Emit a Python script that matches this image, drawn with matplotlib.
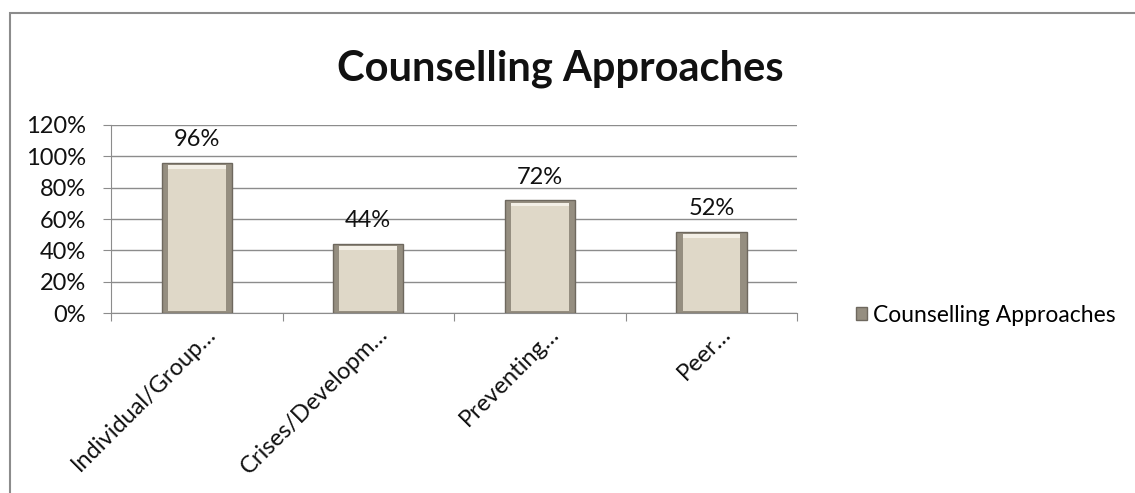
import matplotlib.pyplot as plt
from matplotlib.patches import Rectangle
from matplotlib.ticker import FuncFormatter

plt.rcParams['font.family'] = ['Lato', 'DejaVu Sans']

categories = ["Individual/Group\u2026", "Crises/Developm\u2026", "Preventing\u2026", "Peer\u2026"]
values = [0.96, 0.44, 0.72, 0.52]
value_labels = ["96%", "44%", "72%", "52%"]
series_name = "Counselling Approaches"

fig = plt.figure(figsize=(11.35, 4.93), dpi=100)

# outer chart frame (right and bottom edges fall outside the image)
fig.patches.append(Rectangle((10 / 1135, -0.05), 1.2, 1 - 13 / 493 + 0.05,
                             transform=fig.transFigure, fill=False,
                             edgecolor='#8c8c8c', linewidth=1.5))

ax = fig.add_axes([0.0978, 0.365, 0.6045, 0.3815])

x = range(len(categories))
w = 0.41
# beveled look: dark outer bar, lighter face, light top strip
ax.bar(x, values, width=w, color='#958e80', edgecolor='#6e685e', linewidth=1.0,
       zorder=3, label=series_name)
ax.bar(x, [v - 0.045 for v in values], bottom=0.015, width=w * 0.82,
       color='#dfd8c8', edgecolor='none', zorder=4)
ax.bar(x, [0.025] * len(values), bottom=[v - 0.04 for v in values], width=w * 0.82,
       color='#f3efe6', edgecolor='none', zorder=5)

for i, (v, lab) in enumerate(zip(values, value_labels)):
    ax.annotate(lab, (i, v), xytext=(0, 12), textcoords='offset points',
                ha='center', va='baseline', fontsize=17, color='#111111')

ax.set_ylim(0, 1.2)
ax.set_yticks([0, 0.2, 0.4, 0.6, 0.8, 1.0, 1.2])
ax.yaxis.set_major_formatter(FuncFormatter(lambda v, p: f"{v * 100:.0f}%"))
ax.set_xlim(-0.5, len(categories) - 0.5)
ax.grid(axis='y', color='#8c8c8c', linewidth=1.0, zorder=0)
ax.set_axisbelow(True)

for s in ['top', 'right']:
    ax.spines[s].set_visible(False)
ax.spines['left'].set_color('#8c8c8c')
ax.spines['bottom'].set_color('#8c8c8c')

ax.set_xticks([i - 0.5 for i in range(len(categories) + 1)])
ax.set_xticklabels([])
ax.tick_params(axis='x', length=6, color='#8c8c8c', direction='out')
ax.tick_params(axis='y', length=6, color='#8c8c8c', labelsize=17,
               labelcolor='#111111', pad=12)

for i, cat in enumerate(categories):
    ax.annotate(cat, (i, 0), xytext=(6, -7), textcoords='offset points',
                ha='right', va='top', rotation=45, rotation_mode='anchor',
                fontsize=17, color='#111111')

fig.text(0.494, 1 - 80 / 493, "Counselling Approaches", ha='center', va='baseline',
         fontsize=30, fontweight='bold', color='#111111')

fig.legend(loc='center left', bbox_to_anchor=(0.736, 1 - 315 / 493), frameon=False,
           fontsize=16.5, handlelength=0.5, handleheight=0.5, handletextpad=0.25)

fig.savefig("out.png", dpi=100)
